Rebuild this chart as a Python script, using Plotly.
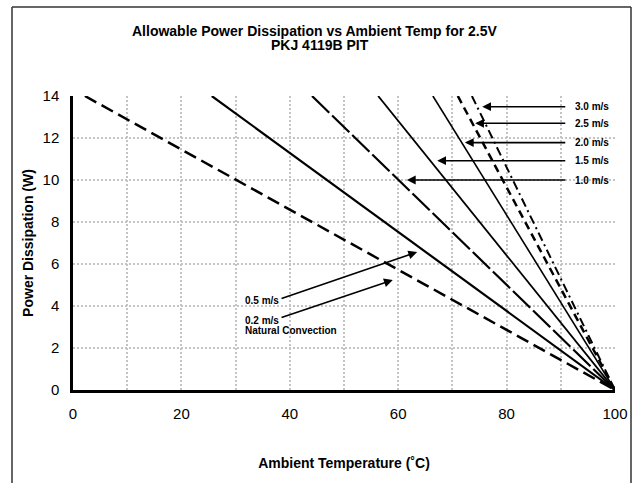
import plotly.graph_objects as go

# ---- data ----
series_names = ["Natural Convection", "0.5 m/s", "1.0 m/s", "1.5 m/s", "2.0 m/s", "2.5 m/s", "3.0 m/s"]
temp_at_14w = [2.2, 25.6, 44.1, 56.3, 66.4, 71.0, 73.6]   # ambient temp where each line leaves 14 W
temp_at_0w = [100, 100, 100, 100, 100, 100, 100]         # all lines end at 100 C, 0 W
power_top = [14, 14, 14, 14, 14, 14, 14]
power_bottom = [0, 0, 0, 0, 0, 0, 0]

# right-hand callouts
right_labels = ["3.0 m/s", "2.5 m/s", "2.0 m/s", "1.5 m/s", "1.0 m/s"]
right_label_y = [13.49, 12.70, 11.78, 10.92, 10.0]
right_tip_x = [75.5, 74.2, 72.3, 67.2, 61.6]
right_tail_x = 91.1
right_text_x = 92.2

# left callouts
left_labels = ["0.5 m/s", "0.2 m/s"]
left_text_y = [4.24, 3.33]
left_tail = [(38.2, 4.33), (38.2, 3.43)]
left_tip = [(63.5, 6.57), (59.0, 5.24)]
left_sub_label = "Natural Convection"
left_sub_y = 2.81
left_text_x = 31.4

x_ticks = [0, 20, 40, 60, 80, 100]
y_ticks = [0, 2, 4, 6, 8, 10, 12, 14]

line_styles = [
    dict(dash="13px,6px", width=2.5),
    dict(dash="solid", width=2.2),
    dict(dash="24px,4px", width=2.2),
    dict(dash="solid", width=1.8),
    dict(dash="solid", width=1.6),
    dict(dash="8px,5px", width=2.5),
    dict(dash="9px,4px,2px,4px", width=2.0),
]

FONT = "Liberation Sans, Arial, sans-serif"
PL, PR, PT, PB = 73, 615, 96, 390   # plot-area pixel box
PW, PH = PR - PL, PB - PT

fig = go.Figure()
for name, xs, xe, ys, ye, st in zip(series_names, temp_at_14w, temp_at_0w,
                                     power_top, power_bottom, line_styles):
    fig.add_trace(go.Scatter(x=[xs, xe], y=[ys, ye], mode="lines", name=name,
                             line=dict(color="black", **st), showlegend=False,
                             hoverinfo="skip"))

annotations = []
# title
annotations.append(dict(text="<b>Allowable Power Dissipation vs Ambient Temp for 2.5V</b>",
                        xref="paper", yref="paper", x=(315 - PL) / PW, y=(PB - 31) / PH,
                        showarrow=False, font=dict(size=14, family=FONT, color="black"),
                        xanchor="center", yanchor="middle", borderpad=0))
annotations.append(dict(text="<b>PKJ 4119B PIT</b>",
                        xref="paper", yref="paper", x=(320 - PL) / PW, y=(PB - 45) / PH,
                        showarrow=False, font=dict(size=14, family=FONT, color="black"),
                        xanchor="center", yanchor="middle", borderpad=0))

for lab, yv, tx in zip(right_labels, right_label_y, right_tip_x):
    annotations.append(dict(x=tx, y=yv, ax=right_tail_x, ay=yv, xref="x", yref="y",
                            axref="x", ayref="y", text="", showarrow=True,
                            arrowhead=2, arrowsize=1.1, arrowwidth=1.6, arrowcolor="black",
                            standoff=0, startstandoff=0))
    annotations.append(dict(x=right_text_x, y=yv, xref="x", yref="y", text="<b>" + lab + "</b>",
                            showarrow=False, xanchor="left", yanchor="middle",
                            font=dict(size=10, family=FONT, color="black")))

for lab, ty, tail, tip in zip(left_labels, left_text_y, left_tail, left_tip):
    annotations.append(dict(x=tip[0], y=tip[1], ax=tail[0], ay=tail[1], xref="x", yref="y",
                            axref="x", ayref="y", text="", showarrow=True,
                            arrowhead=2, arrowsize=1.1, arrowwidth=1.6, arrowcolor="black",
                            standoff=0, startstandoff=0))
    annotations.append(dict(x=left_text_x, y=ty, xref="x", yref="y", text="<b>" + lab + "</b>",
                            showarrow=False, xanchor="left", yanchor="middle",
                            font=dict(size=10, family=FONT, color="black")))
annotations.append(dict(x=left_text_x, y=left_sub_y, xref="x", yref="y",
                        text="<b>" + left_sub_label + "</b>",
                        showarrow=False, xanchor="left", yanchor="middle",
                        font=dict(size=10, family=FONT, color="black")))

# outer frame (left, top, right edges; bottom runs off the picture)
fx0, fx1 = (12 - PL) / PW, (631 - PL) / PW
fy0, fy1 = (PB - 490) / PH, (PB - 7) / PH
frame_line = dict(color="#333333", width=1.5)
shapes = [
    dict(type="line", xref="paper", yref="paper", x0=fx0, x1=fx0, y0=fy0, y1=fy1, line=frame_line, layer="above"),
    dict(type="line", xref="paper", yref="paper", x0=fx0, x1=fx1, y0=fy1, y1=fy1, line=frame_line, layer="above"),
    dict(type="line", xref="paper", yref="paper", x0=fx1, x1=fx1, y0=fy0, y1=fy1, line=frame_line, layer="above"),
]

grid_color = "#c4c4c4"
fig.update_layout(
    width=637, height=483,
    margin=dict(l=PL, r=637 - PR, t=PT, b=483 - PB, autoexpand=False),
    paper_bgcolor="white", plot_bgcolor="white",
    font=dict(family=FONT, color="black"),
    annotations=annotations,
    shapes=shapes,
    showlegend=False,
)
fig.update_xaxes(range=[0, 100], tickvals=x_ticks, ticks="outside", ticklen=8,
                 tickcolor="rgba(0,0,0,0)", tickfont=dict(size=15, family=FONT),
                 showline=True, linecolor="black", linewidth=2.5, automargin=False,
                 showgrid=True, gridcolor=grid_color, griddash="2px,2px", gridwidth=1.5,
                 minor=dict(dtick=10, showgrid=True, gridcolor=grid_color,
                            griddash="2px,2px", gridwidth=1.5),
                 zeroline=False,
                 title=dict(text="<b>Ambient Temperature (˚C)</b>", standoff=38,
                            font=dict(size=14, family=FONT)))
fig.update_yaxes(range=[0, 14], tickvals=y_ticks, ticks="outside", ticklen=8,
                 tickcolor="rgba(0,0,0,0)", tickfont=dict(size=15, family=FONT),
                 showline=True, linecolor="black", linewidth=2.5, automargin=False,
                 showgrid=True, gridcolor=grid_color, griddash="2px,2px", gridwidth=1.5,
                 zeroline=False,
                 title=dict(text="<b>Power Dissipation (W)</b>", standoff=6,
                            font=dict(size=14, family=FONT)))

fig.write_html("out.html", config={"displayModeBar": False},
               post_script="document.body.style.margin='0px';")
